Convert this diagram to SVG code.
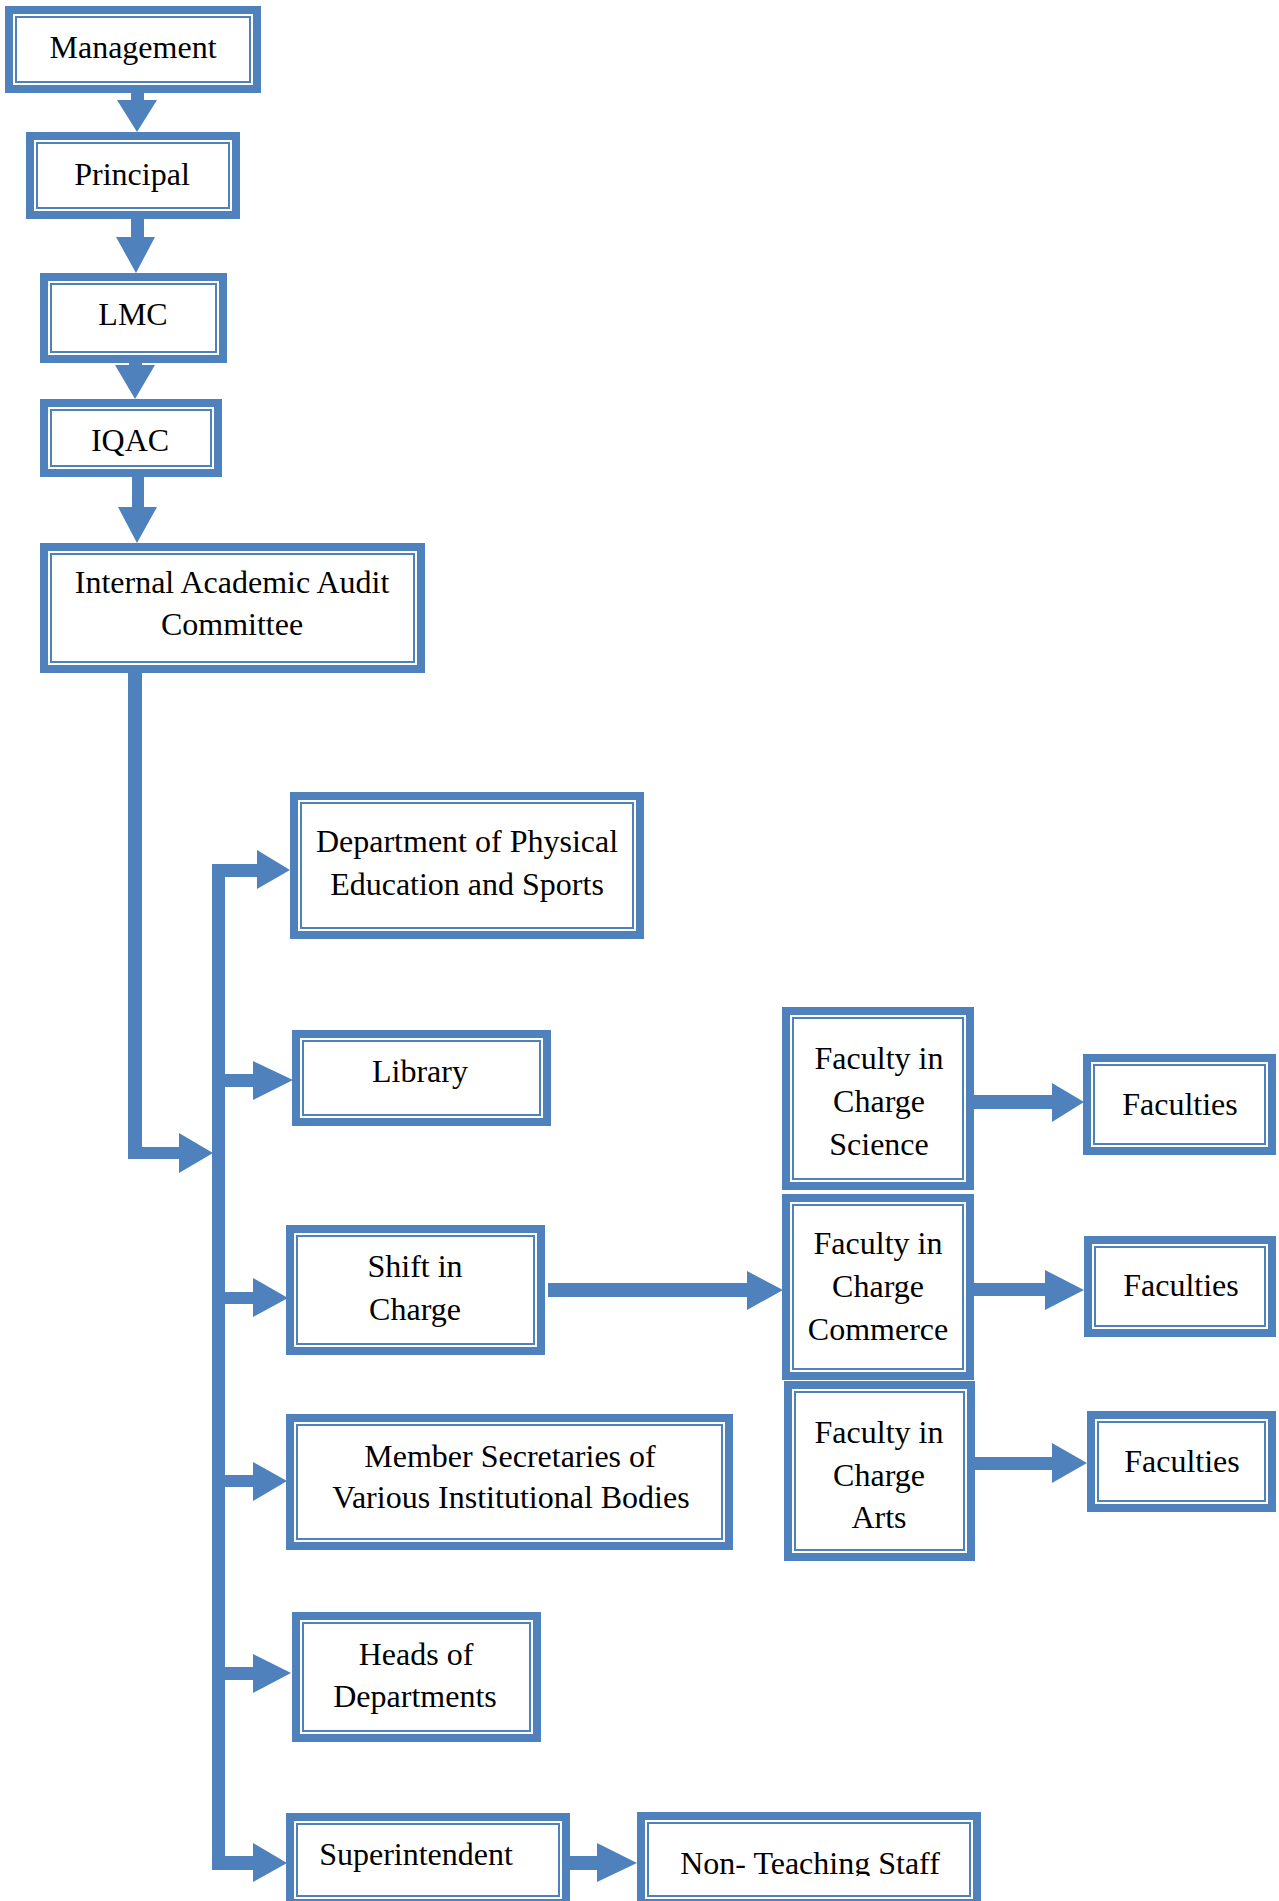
<svg xmlns="http://www.w3.org/2000/svg" width="1279" height="1901" viewBox="0 0 1279 1901">
<style>
.o{fill:#fff;stroke:#4F81BD;stroke-width:8}
.i{fill:none;stroke:#4F81BD;stroke-width:2}
.t{font-family:"Liberation Serif","Times New Roman",serif;font-size:32px;fill:#000;text-anchor:middle}
.c{fill:#4F81BD}
</style>
<defs>
<clipPath id="ntsClip"><rect x="600" y="1780" width="400" height="96"/></clipPath>
</defs>
<rect width="1279" height="1901" fill="#fff"/>
<g id="connectors" class="c">
<polygon points="131,92 144,92 144,100 157,100 137,132 117,100 131,100"/>
<polygon points="131,218 144,218 144,237 155,237 136,273 116,237 131,237"/>
<polygon points="129,362 142,362 142,365 155,365 135,399 115,365 129,365"/>
<polygon points="132,476 144,476 144,507 157,507 137,543 118,507 132,507"/>
<polygon points="128,672 142,672 142,1147 179,1147 179,1133 213,1153 179,1173 179,1159 128,1159"/>
<rect x="212" y="864" width="13" height="1006"/>
<polygon points="212,864 257,864 257,850 290,870 257,889 257,877 212,877"/>
<polygon points="220,1074 253,1074 253,1061 293,1080 253,1100 253,1087 220,1087"/>
<polygon points="220,1292 253,1292 253,1278 288,1298 253,1317 253,1304 220,1304"/>
<polygon points="220,1475 253,1475 253,1462 287,1481 253,1501 253,1487 220,1487"/>
<polygon points="220,1667 253,1667 253,1654 291,1673 253,1693 253,1680 220,1680"/>
<polygon points="212,1856 253,1856 253,1843 287,1863 253,1882 253,1870 212,1870"/>
<polygon points="548,1283 747,1283 747,1271 783,1290 747,1310 747,1297 548,1297"/>
<polygon points="972,1095 1052,1095 1052,1083 1084,1102 1052,1122 1052,1109 972,1109"/>
<polygon points="972,1283 1045,1283 1045,1270 1084,1290 1045,1310 1045,1296 972,1296"/>
<polygon points="973,1457 1052,1457 1052,1443 1087,1463 1052,1483 1052,1470 973,1470"/>
<polygon points="568,1856 597,1856 597,1843 637,1863 597,1882 597,1870 568,1870"/>
</g>
<g id="management"><rect class="o" x="9" y="10" width="248" height="79"/><rect class="i" x="16" y="17" width="234" height="65"/><text class="t" x="133" y="58">Management</text></g>
<g id="principal"><rect class="o" x="30" y="136" width="206" height="79"/><rect class="i" x="37" y="143" width="192" height="65"/><text class="t" x="132" y="185">Principal</text></g>
<g id="lmc"><rect class="o" x="44" y="277" width="179" height="82"/><rect class="i" x="51" y="284" width="165" height="68"/><text class="t" x="133" y="325">LMC</text></g>
<g id="iqac"><rect class="o" x="44" y="403" width="174" height="70"/><rect class="i" x="51" y="410" width="160" height="56"/><text class="t" x="130" y="451">IQAC</text></g>
<g id="iaac"><rect class="o" x="44" y="547" width="377" height="122"/><rect class="i" x="51" y="554" width="363" height="108"/><text class="t" x="232" y="593">Internal Academic Audit</text><text class="t" x="232" y="635">Committee</text></g>
<g id="dpe"><rect class="o" x="294" y="796" width="346" height="139"/><rect class="i" x="301" y="803" width="332" height="125"/><text class="t" x="467" y="852">Department of Physical</text><text class="t" x="467" y="895">Education and Sports</text></g>
<g id="library"><rect class="o" x="296" y="1034" width="251" height="88"/><rect class="i" x="303" y="1041" width="237" height="74"/><text class="t" x="420" y="1082">Library</text></g>
<g id="shift"><rect class="o" x="290" y="1229" width="251" height="122"/><rect class="i" x="297" y="1236" width="237" height="108"/><text class="t" x="415" y="1277">Shift in</text><text class="t" x="415" y="1320">Charge</text></g>
<g id="member"><rect class="o" x="290" y="1418" width="439" height="128"/><rect class="i" x="297" y="1425" width="425" height="114"/><text class="t" x="510" y="1467">Member Secretaries of</text><text class="t" x="511" y="1508">Various Institutional Bodies</text></g>
<g id="heads"><rect class="o" x="296" y="1616" width="241" height="122"/><rect class="i" x="303" y="1623" width="227" height="108"/><text class="t" x="416" y="1665">Heads of</text><text class="t" x="415" y="1707">Departments</text></g>
<g id="superintendent"><rect class="o" x="290" y="1817" width="276" height="86"/><rect class="i" x="297" y="1824" width="262" height="72"/><text class="t" x="416" y="1865">Superintendent</text></g>
<g id="nts"><rect class="o" x="641" y="1816" width="336" height="87"/><rect class="i" x="648" y="1823" width="322" height="73"/><text class="t" x="810" y="1874" clip-path="url(#ntsClip)">Non- Teaching Staff</text></g>
<g id="fic-science"><rect class="o" x="786" y="1011" width="184" height="175"/><rect class="i" x="793" y="1018" width="170" height="161"/><text class="t" x="879" y="1069">Faculty in</text><text class="t" x="879" y="1112">Charge</text><text class="t" x="879" y="1155">Science</text></g>
<g id="fic-commerce"><rect class="o" x="786" y="1198" width="184" height="178"/><rect class="i" x="793" y="1205" width="170" height="164"/><text class="t" x="878" y="1254">Faculty in</text><text class="t" x="878" y="1297">Charge</text><text class="t" x="878" y="1340">Commerce</text></g>
<g id="fic-arts"><rect class="o" x="788" y="1385" width="183" height="172"/><rect class="i" x="795" y="1392" width="169" height="158"/><text class="t" x="879" y="1443">Faculty in</text><text class="t" x="879" y="1486">Charge</text><text class="t" x="879" y="1528">Arts</text></g>
<g id="faculties-1"><rect class="o" x="1087" y="1058" width="185" height="93"/><rect class="i" x="1094" y="1065" width="171" height="79"/><text class="t" x="1180" y="1115">Faculties</text></g>
<g id="faculties-2"><rect class="o" x="1088" y="1240" width="184" height="93"/><rect class="i" x="1095" y="1247" width="170" height="79"/><text class="t" x="1181" y="1296">Faculties</text></g>
<g id="faculties-3"><rect class="o" x="1091" y="1415" width="181" height="93"/><rect class="i" x="1098" y="1422" width="167" height="79"/><text class="t" x="1182" y="1472">Faculties</text></g>
</svg>
